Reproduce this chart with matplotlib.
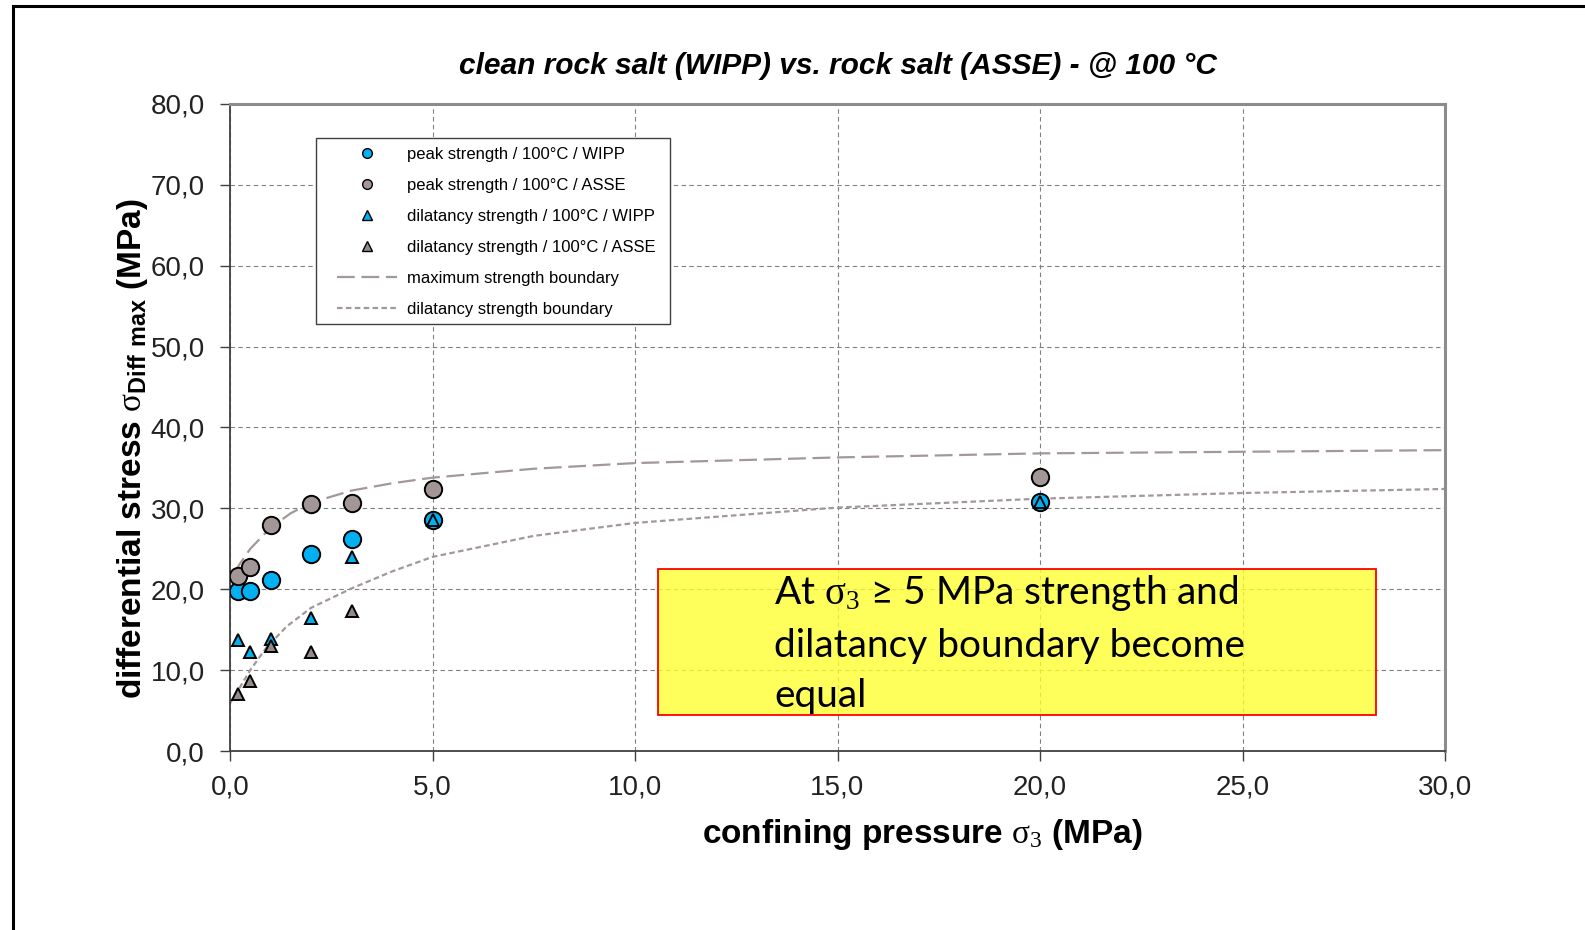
import matplotlib.pyplot as plt
from matplotlib.lines import Line2D
from matplotlib.patches import Rectangle

plt.rcParams['font.family'] = ['Liberation Sans', 'DejaVu Sans']
plt.rcParams['mathtext.fontset'] = 'custom'
plt.rcParams['mathtext.rm'] = 'Liberation Serif'
plt.rcParams['mathtext.bf'] = 'Liberation Sans:bold'
plt.rcParams['mathtext.sf'] = 'Liberation Sans'

sigma3_peak = [0.2, 0.5, 1.0, 2.0, 3.0, 5.0, 20.0]
peak_wipp = [19.8, 19.8, 21.2, 24.3, 26.2, 28.6, 30.8]
peak_asse = [21.7, 22.7, 27.9, 30.6, 30.7, 32.4, 33.9]

sigma3_dil_wipp = [0.2, 0.5, 1.0, 2.0, 3.0, 5.0, 20.0]
dil_wipp = [13.7, 12.2, 13.9, 16.4, 24.0, 28.6, 30.8]
sigma3_dil_asse = [0.2, 0.5, 1.0, 2.0, 3.0]
dil_asse = [7.1, 8.7, 13.0, 12.2, 17.3]

max_x = [0.1, 0.25, 0.5, 1.0, 1.5, 2.0, 3.0, 4.0, 5.0, 7.5, 10.0, 15.0, 20.0, 25.0, 30.0]
max_y = [22.0, 23.2, 25.0, 27.6, 29.4, 30.7, 32.2, 33.1, 33.8, 34.9, 35.6, 36.3, 36.8, 37.0, 37.2]
dil_x = [0.0, 0.2, 0.5, 0.9, 1.4, 2.0, 3.0, 4.0, 5.0, 7.5, 10.0, 15.0, 20.0, 25.0, 30.0]
dil_y = [5.9, 7.5, 10.0, 12.8, 15.4, 17.7, 20.1, 22.2, 24.0, 26.6, 28.2, 30.1, 31.2, 31.9, 32.4]

xticks = [0, 5, 10, 15, 20, 25, 30]
xtick_labels = ['0,0', '5,0', '10,0', '15,0', '20,0', '25,0', '30,0']
yticks = [0, 10, 20, 30, 40, 50, 60, 70, 80]
ytick_labels = ['0,0', '10,0', '20,0', '30,0', '40,0', '50,0', '60,0', '70,0', '80,0']

labels = ['peak strength / 100°C / WIPP', 'peak strength / 100°C / ASSE',
          'dilatancy strength / 100°C / WIPP', 'dilatancy strength / 100°C / ASSE',
          'maximum strength boundary', 'dilatancy strength boundary']

blue = '#00B0F0'
grey = '#A29696'
dgrey = '#958A8A'
curve_grey = '#A39898'
long_dash = (0, (8, 3))
short_dash = (0, (2.5, 1.5))

fig = plt.figure(figsize=(15.85, 9.3), dpi=100)
ax = fig.add_axes([230 / 1585, 179 / 930, 1215 / 1585, 647 / 930])

ax.plot(max_x, max_y, color=curve_grey, lw=1.6, ls=long_dash, zorder=2)
ax.plot(dil_x, dil_y, color=curve_grey, lw=1.6, ls=short_dash, zorder=2)

mk = dict(ls='none', markeredgecolor='black', markeredgewidth=1.4, zorder=3)
ax.plot(sigma3_peak, peak_wipp, marker='o', ms=12.5, markerfacecolor=blue, **mk)
ax.plot(sigma3_peak, peak_asse, marker='o', ms=12.5, markerfacecolor=grey, **mk)
ax.plot(sigma3_dil_wipp, dil_wipp, marker='^', ms=9, markerfacecolor=blue, **mk)
ax.plot(sigma3_dil_asse, dil_asse, marker='^', ms=9, markerfacecolor=dgrey, **mk)

ax.set_xlim(0, 30)
ax.set_ylim(0, 80)
ax.set_xticks(xticks, xtick_labels)
ax.set_yticks(yticks, ytick_labels)
ax.tick_params(direction='out', length=7, width=1, color='#404040', labelsize=20,
               labelcolor='#222222')
ax.tick_params(axis='y', pad=11)
ax.tick_params(axis='x', pad=10)
ax.grid(True, ls=(0, (4, 3)), color='#808080', lw=0.8)
ax.set_axisbelow(True)

for s in ['left', 'bottom']:
    ax.spines[s].set_color('#404040')
    ax.spines[s].set_linewidth(1.3)
for s in ['top', 'right']:
    ax.spines[s].set_color('#8C8C8C')
    ax.spines[s].set_linewidth(2.2)

# Legende mit eigenem Rahmen und kleineren Symbolen
lk = dict(ls='none', markeredgecolor='black', markeredgewidth=1.0)
handles = [Line2D([], [], marker='o', ms=7, markerfacecolor=blue, **lk),
           Line2D([], [], marker='o', ms=7, markerfacecolor=grey, **lk),
           Line2D([], [], marker='^', ms=6.5, markerfacecolor=blue, **lk),
           Line2D([], [], marker='^', ms=6.5, markerfacecolor=dgrey, **lk),
           Line2D([], [], color=curve_grey, lw=1.6, ls=long_dash),
           Line2D([], [], color=curve_grey, lw=1.6, ls=short_dash)]
ax.add_patch(Rectangle((316 / 1585, 1 - 323.5 / 930), 354 / 1585, 186 / 930,
                       transform=fig.transFigure, facecolor='white', edgecolor='#404040',
                       lw=1.0, zorder=4, clip_on=False))
ax.legend(handles, labels,
          loc='upper left', bbox_to_anchor=(336.6 / 1585, 1 - 147 / 930),
          bbox_transform=fig.transFigure, frameon=False, fontsize=12,
          handlelength=3.6, handletextpad=0.64, labelspacing=0.96,
          borderpad=0, borderaxespad=0)

# gelber Hinweiskasten
ax.add_patch(Rectangle((0.352, 0.0556), 0.591, 0.2254, transform=ax.transAxes,
                       facecolor=(1, 1, 0.2), alpha=0.8, edgecolor='none', zorder=4))
ax.add_patch(Rectangle((0.352, 0.0556), 0.591, 0.2254, transform=ax.transAxes,
                       facecolor='none', edgecolor='red', lw=1.3, zorder=4))
fig.text(774 / 1585, 1 - 707 / 930,
         'At $\\mathrm{\\sigma_3}$ ≥ 5 MPa strength and\ndilatancy boundary become\nequal',
         family=['Lato', 'DejaVu Sans'], fontsize=28, ha='left', va='baseline',
         linespacing=1.5)

fig.text(838 / 1585, 1 - 66 / 930, 'clean rock salt (WIPP) vs. rock salt (ASSE) - @ 100 °C',
         fontsize=21.5, weight='bold', style='italic', ha='center', va='center')
fig.text(922 / 1585, 1 - 834 / 930, 'confining pressure $\\mathrm{\\sigma_3}$ (MPa)',
         fontsize=24, weight='bold', ha='center', va='center')
fig.text(133 / 1585, 1 - 449 / 930,
         'differential stress $\\mathrm{\\sigma}_{\\mathbf{Diff\\ max}}$ (MPa)',
         fontsize=24, weight='bold', ha='center', va='center', rotation=90)

# Rahmenlinien links und oben
fig.add_artist(Line2D([13 / 1585, 13 / 1585], [0, 1 - 6 / 930], color='black', lw=2.2))
fig.add_artist(Line2D([13 / 1585, 1], [1 - 6 / 930, 1 - 6 / 930], color='black', lw=2.2))

fig.savefig('out.png', dpi=100)
